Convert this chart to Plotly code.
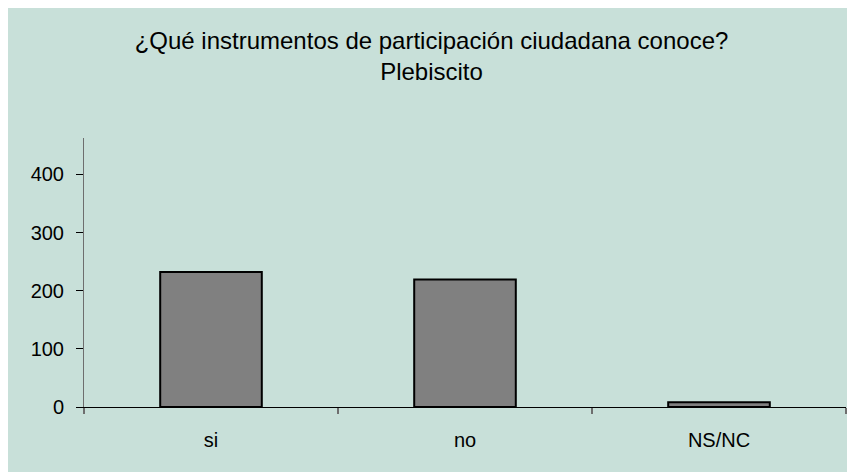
import plotly.graph_objects as go

categories = ["si", "no", "NS/NC"]
values = [232, 219, 8]
y_ticks = [0, 100, 200, 300, 400]

bg = "rgb(200,224,217)"

fig = go.Figure()
fig.add_trace(go.Bar(
    x=categories, y=values,
    marker=dict(color="#808080", line=dict(color="#000000", width=2)),
    width=0.4,
))

fig.update_layout(
    width=847, height=464,
    paper_bgcolor=bg, plot_bgcolor=bg,
    margin=dict(l=76, r=9, t=130, b=65),
    showlegend=False,
    font=dict(family="Liberation Sans, Arial, sans-serif", color="#000000"),
    title=dict(
        text="¿Qué instrumentos de participación ciudadana conoce?<br>Plebiscito",
        x=0.5, xanchor="center", y=0.912, yanchor="top",
        font=dict(size=24, family="Liberation Sans, Arial, sans-serif"),
    ),
    bargap=0.6,
)
fig.update_xaxes(
    showline=True, linecolor="#000000", linewidth=1,
    ticks="outside", tickson="boundaries", ticklen=6, tickcolor="#6e6e6e", tickwidth=2,
    showgrid=False, zeroline=False,
    tickfont=dict(size=20), ticklabelstandoff=15,
)
fig.update_yaxes(
    range=[0, 462.5], tickvals=y_ticks,
    showline=True, linecolor="#6e6e6e", linewidth=1,
    ticks="outside", ticklen=7, tickcolor="#000000", tickwidth=1,
    showgrid=False, zeroline=False,
    tickfont=dict(size=20), ticklabelstandoff=8,
)

fig.write_html("out.html")
